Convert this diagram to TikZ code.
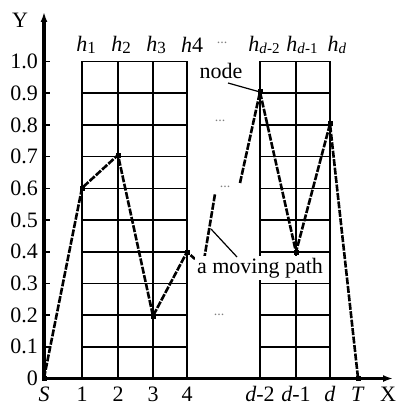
\documentclass[tikz,border=0pt]{standalone}
\usepackage{fontspec}
\setmainfont{Liberation Serif}
\usepackage{tikz}
\usetikzlibrary{arrows.meta}

\begin{document}
\begin{tikzpicture}[x=1pt, y=-1pt, >=Latex,
  gridline/.style={line width=1.6pt},
  axisline/.style={line width=3.2pt},
  movepath/.style={line width=2.6pt, dash pattern=on 7pt off 1.5pt},
  lbl/.style={font=\fontsize{22}{24}\selectfont, inner sep=0pt},
  dots/.style={font=\fontsize{14}{16}\selectfont, text=gray, inner sep=0pt},
  vtx/.style={fill, inner sep=0pt, minimum size=5pt}]
  \useasboundingbox (0,0) rectangle (396,406);

  % Grid blocks
  \foreach \xx in {82,118,153,187}
    \draw[gridline] (\xx,378.5) -- (\xx,61.5);
  \foreach \xx in {260,296,330}
    \draw[gridline] (\xx,378.5) -- (\xx,61.5);
  \foreach \k in {1,...,10} {
    \draw[gridline] (82,{378.5-31.7*\k}) -- (187,{378.5-31.7*\k});
    \draw[gridline] (260,{378.5-31.7*\k}) -- (330,{378.5-31.7*\k});
  }

  % Axes
  \draw[axisline, -{Latex[length=10pt, width=7pt]}] (44,378.5) -- (44,12);
  \draw[axisline, -{Latex[length=10pt, width=7pt]}] (44,378.5) -- (393,378.5);
  \node[lbl] (ylab) at (20,20) {Y};
  \node[lbl] (xlab) at (388,394) {X};

  % Y ticks and labels
  \foreach \k/\t in {0/0,1/0.1,2/0.2,3/0.3,4/0.4,5/0.5,6/0.6,7/0.7,8/0.8,9/0.9,10/1.0} {
    \draw[line width=1.6pt] (44,{378.5-31.7*\k}) -- (50,{378.5-31.7*\k});
    \node[lbl, anchor=east] at (38,{378.5-31.7*\k}) {\t};
  }

  % X labels
  \foreach \xx/\t in {44/\textit{S},82/1,118/2,153/3,187/4,260/\textit{d}-2,296/\textit{d}-1,330/\textit{d},358/\textit{T}}
    \node[lbl] at (\xx,394) {\t};

  % Column labels
  \node[lbl] (h1) at (86,45) {\textit{h}\raisebox{-2pt}{\fontsize{17}{18}\selectfont 1}};
  \node[lbl] (h2) at (121,45) {\textit{h}\raisebox{-2pt}{\fontsize{17}{18}\selectfont 2}};
  \node[lbl] (h3) at (156,45) {\textit{h}\raisebox{-2pt}{\fontsize{17}{18}\selectfont 3}};
  \node[lbl] (h4) at (192,45) {\textit{h}4};
  \node[lbl] (hd2) at (264,45) {\textit{h}\raisebox{-2pt}{\fontsize{15}{16}\selectfont\textit{d}-2}};
  \node[lbl] (hd1) at (302,45) {\textit{h}\raisebox{-2pt}{\fontsize{15}{16}\selectfont\textit{d}-1}};
  \node[lbl] (hd) at (337,45) {\textit{h}\raisebox{-2pt}{\fontsize{15}{16}\selectfont\textit{d}}};

  % Gap dots
  \node[dots] (g1) at (222,43) {...};
  \node[dots] (g2) at (220,121) {...};
  \node[dots] (g3) at (225,187) {...};
  \node[dots] (g4) at (219,315) {...};

  % Path vertices
  \coordinate (S) at (44,378);
  \coordinate (p1) at (82,188);
  \coordinate (p2) at (118,155);
  \coordinate (p3) at (153,316);
  \coordinate (p4) at (187,252);
  \coordinate (q1) at (195,259);
  \coordinate (q2) at (204,260);
  \coordinate (q3) at (215,194);
  \coordinate (q4) at (240,183);
  \coordinate (p5) at (260,92);
  \coordinate (p6) at (296,252);
  \coordinate (p7) at (330,124);
  \coordinate (T) at (358,378);

  % Moving path
  \draw[movepath] (S) -- (p1) -- (p2) -- (p3) -- (p4) -- (q1);
  \draw[movepath] (q2) -- (q3);
  \draw[movepath] (q4) -- (p5) -- (p6) -- (p7) -- (T);
  \foreach \p in {S,p1,p2,p3,p4,p5,p6,p7,T}
    \node[vtx] at (\p) {};

  % Labels with leaders
  \node[lbl] (nlab) at (221,71) {node};
  \draw[line width=1.2pt] (228,83) -- (p5);
  \node[lbl, fill=white, inner sep=2pt] (plab) at (260,268) {a moving path};
  \coordinate (onpath) at (211,229);
  \draw[line width=1.2pt] (onpath) -- (237,257);
\end{tikzpicture}
\end{document}
